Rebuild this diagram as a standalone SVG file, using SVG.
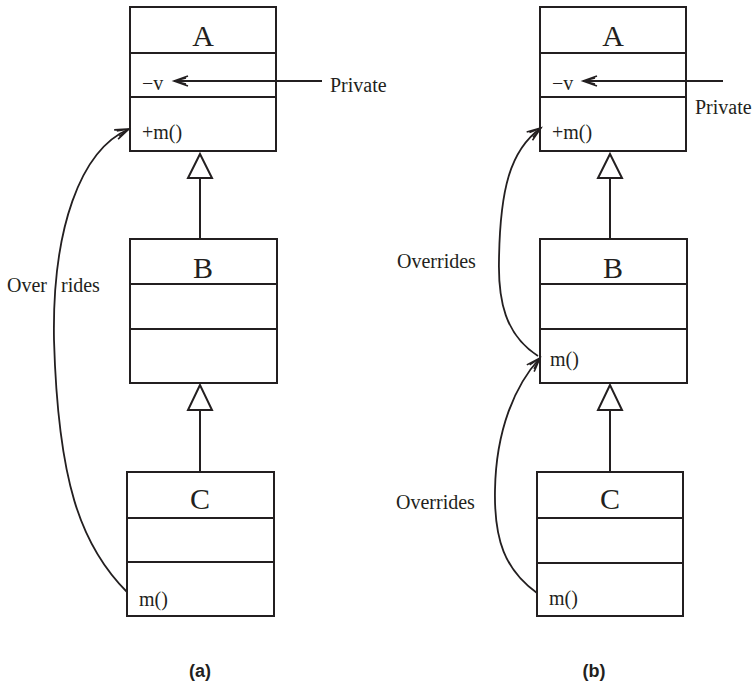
<svg xmlns="http://www.w3.org/2000/svg" width="756" height="684" viewBox="0 0 756 684">
<style>
.box{fill:#fff;stroke:#231f20;stroke-width:2}
.div{stroke:#231f20;stroke-width:2}
.cls{font-family:"Liberation Serif","Times New Roman",serif;font-size:30px;fill:#231f20;text-anchor:middle}
.mem{font-family:"Liberation Serif","Times New Roman",serif;font-size:20px;fill:#231f20}
.lbl{font-family:"Liberation Serif","Times New Roman",serif;font-size:20px;fill:#231f20}
.cap{font-family:"Liberation Sans",Arial,sans-serif;font-size:18px;font-weight:bold;fill:#231f20;text-anchor:middle}
.gen{fill:none;stroke:#231f20;stroke-width:2}
.tri{fill:#fff;stroke:#231f20;stroke-width:2}
.cur{fill:none;stroke:#231f20;stroke-width:1.8}
</style>
<defs>
<marker id="open" markerUnits="userSpaceOnUse" markerWidth="20" markerHeight="14" refX="16" refY="6" orient="auto">
<path d="M2,1 L16,6 L2,11 M4,3 L16,6 L4,9" fill="none" stroke="#231f20" stroke-width="1.6"/>
</marker>
</defs>

<!-- (a) -->
<g id="a-A">
<rect class="box" x="130" y="7" width="146" height="144"/>
<line class="div" x1="130" y1="53" x2="276" y2="53"/>
<line class="div" x1="130" y1="97" x2="276" y2="97"/>
<text class="cls" x="203" y="46">A</text>
<text class="mem" x="142" y="90">−v</text>
<text class="mem" x="142" y="139">+m()</text>
</g>
<g id="a-B">
<rect class="box" x="130" y="239" width="147" height="144"/>
<line class="div" x1="130" y1="284" x2="277" y2="284"/>
<line class="div" x1="130" y1="329" x2="277" y2="329"/>
<text class="cls" x="203" y="278">B</text>
</g>
<g id="a-C">
<rect class="box" x="127" y="472" width="147" height="144"/>
<line class="div" x1="127" y1="518" x2="274" y2="518"/>
<line class="div" x1="127" y1="562" x2="274" y2="562"/>
<text class="cls" x="200" y="509">C</text>
<text class="mem" x="139" y="606">m()</text>
</g>
<g id="a-private">
<text class="lbl" x="330" y="92">Private</text>
</g>
<g id="a-overrides">
<text class="lbl" x="7" y="292">Over <tspan x="61">rides</tspan></text>
</g>
<text class="cap" x="200" y="677">(a)</text>

<!-- (b) -->
<g id="b-A">
<rect class="box" x="540" y="7" width="146" height="144"/>
<line class="div" x1="540" y1="53" x2="686" y2="53"/>
<line class="div" x1="540" y1="97" x2="686" y2="97"/>
<text class="cls" x="613" y="46">A</text>
<text class="mem" x="552" y="90">−v</text>
<text class="mem" x="552" y="139">+m()</text>
</g>
<g id="b-B">
<rect class="box" x="540" y="239" width="147" height="144"/>
<line class="div" x1="540" y1="284" x2="687" y2="284"/>
<line class="div" x1="540" y1="329" x2="687" y2="329"/>
<text class="cls" x="613" y="278">B</text>
<text class="mem" x="550" y="366">m()</text>
</g>
<g id="b-C">
<rect class="box" x="537" y="472" width="146" height="144"/>
<line class="div" x1="537" y1="518" x2="683" y2="518"/>
<line class="div" x1="537" y1="563" x2="683" y2="563"/>
<text class="cls" x="610" y="509">C</text>
<text class="mem" x="549" y="605">m()</text>
</g>
<g id="b-private">
<text class="lbl" x="695" y="114">Private</text>
</g>
<g id="b-overrides1">
<text class="lbl" x="397" y="268">Overrides</text>
</g>
<g id="b-overrides2">
<text class="lbl" x="396" y="509">Overrides</text>
</g>
<text class="cap" x="594" y="677">(b)</text>

<g id="connectors">
<!-- generalization (a) -->
<line class="gen" x1="200" y1="178" x2="200" y2="239"/>
<polygon class="tri" points="200,154 188,178 212,178"/>
<line class="gen" x1="200" y1="410" x2="200" y2="472"/>
<polygon class="tri" points="200,385 188,410 212,410"/>
<!-- generalization (b) -->
<line class="gen" x1="610" y1="178" x2="610" y2="239"/>
<polygon class="tri" points="610,154 598,178 622,178"/>
<line class="gen" x1="610" y1="410" x2="610" y2="472"/>
<polygon class="tri" points="610,385 598,410 622,410"/>
<!-- private arrows -->
<line class="cur" x1="322" y1="81" x2="174" y2="81" marker-end="url(#open)"/>
<line class="cur" x1="723" y1="81" x2="583" y2="81" marker-end="url(#open)"/>
<!-- overrides (a) -->
<path class="cur" d="M127,592 C80,545 58,480 54,340 C52,230 80,150 129,129" marker-end="url(#open)"/>
<!-- overrides (b) -->
<path class="cur" d="M538,356 C505,335 498,300 499,260 C500,190 510,150 541,128" marker-end="url(#open)"/>
<path class="cur" d="M537,593 C505,570 494,540 495,490 C496,430 515,385 540,358" marker-end="url(#open)"/>
</g>
</svg>
